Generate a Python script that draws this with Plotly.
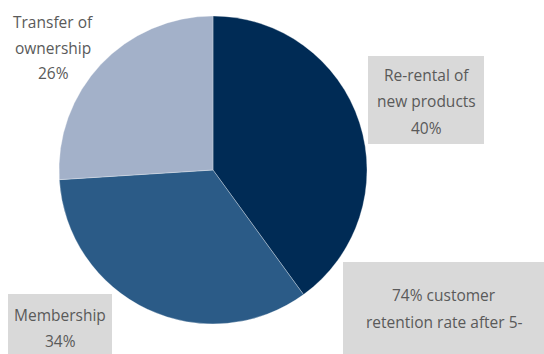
import plotly.graph_objects as go

W, H = 544, 354

categories = ["Re-rental of new products", "Membership", "Transfer of ownership"]
values = [40, 34, 26]
colors = ["#002B55", "#2B5B87", "#A3B1C9"]

# label text lines (shown beside the pie)
label_rerental = ["Re-rental of", "new products", "40%"]
label_membership = ["Membership", "34%"]
label_transfer = ["Transfer of", "ownership", "26%"]
label_retention = ["74% customer", "retention rate after 5-"]

cx, cy, r = 213, 170, 154

def px(x):
    return x / W

def py(y):
    return 1 - y / H

fig = go.Figure(go.Pie(
    labels=categories,
    values=values,
    sort=False,
    direction="clockwise",
    rotation=0,
    marker=dict(colors=colors, line=dict(color="white", width=0.3)),
    textinfo="none",
    hoverinfo="label+percent",
    showlegend=False,
    domain=dict(x=[px(cx - r), px(cx + r)], y=[py(cy + r), py(cy - r)]),
))

shapes = []
box_color = "#D9D9D9"
for (x0, y0, x1, y1) in [(368, 56, 484, 144), (8, 294, 112, 354), (343, 262, 544, 354)]:
    shapes.append(dict(type="rect", xref="paper", yref="paper",
                       x0=px(x0), x1=px(x1), y0=py(y1), y1=py(y0),
                       fillcolor=box_color, line=dict(width=0), layer="above"))

annotations = []
font = dict(family="Open Sans", size=15.5, color="#5A5A5A")

def add_lines(lines, xc, ys):
    for t, y in zip(lines, ys):
        annotations.append(dict(text=t, x=px(xc), y=py(y), xref="paper", yref="paper",
                                showarrow=False, xanchor="center", yanchor="middle",
                                font=font))

add_lines(label_rerental, 426, [75, 101, 128])
add_lines(label_membership, 60, [315, 341])
add_lines(label_transfer, 53, [22, 48, 73])
add_lines(label_retention, 444, [295, 322])

fig.update_layout(
    width=W, height=H,
    margin=dict(l=0, r=0, t=0, b=0),
    paper_bgcolor="white", plot_bgcolor="white",
    shapes=shapes, annotations=annotations,
)

fig.write_html("out.html")
